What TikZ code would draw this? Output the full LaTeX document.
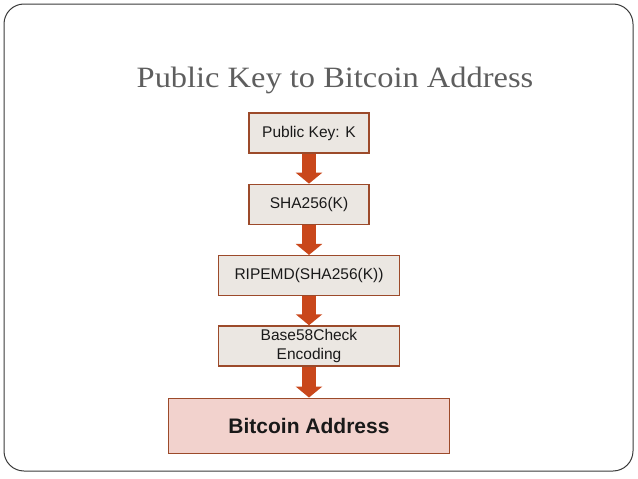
\documentclass[tikz,border=0pt]{standalone}
\usepackage{fontspec}
\setmainfont{Liberation Serif}
\newfontfamily\titlefont[FakeStretch=1.1]{Liberation Serif}
\newfontfamily\boxfont{Liberation Sans}
\usetikzlibrary{positioning,arrows.meta}

\definecolor{framegray}{HTML}{3A3A3A}
\definecolor{titlegray}{HTML}{5E5E5E}
\definecolor{boxfill}{HTML}{EBE7E2}
\definecolor{boxline}{HTML}{9C4A2A}
\definecolor{addrfill}{HTML}{F2D2CD}
\definecolor{arrowred}{HTML}{C9471B}

\tikzstyle{step box} = [draw=boxline, line width=1.3pt, fill=boxfill, inner sep=0pt, align=center, font=\boxfont\fontsize{15.5}{19}\selectfont, text=black!90]
\tikzstyle{small box} = [step box, minimum width=120pt, minimum height=40pt]
\tikzstyle{wide box} = [step box, minimum width=181pt, minimum height=40pt]
\tikzstyle{flow} = [draw=arrowred, line width=14pt, -{Triangle[width=26pt,length=11pt,fill=arrowred]}]

\begin{document}
\begin{tikzpicture}[x=1pt, y=-1pt]
\useasboundingbox (0,0) rectangle (638,479);
%frame
\draw[framegray, line width=1pt, rounded corners=20pt] (4,4) rectangle (633,471);
%title
\node[anchor=base, text=titlegray, font=\titlefont\fontsize{29.5}{34}\selectfont] (title) at (335,87) {Public Key to Bitcoin Address};
%begin boxes
\node[small box] (key) at (309,133) {Public Key: K};
\node[small box, below=30pt of key] (sha) {SHA256(K)};
\node[wide box, below=30pt of sha] (ripemd) {RIPEMD(SHA256(K))};
\node[wide box, below=29pt of ripemd] (base) {Base58Check\\Encoding};
\node[step box, fill=addrfill, minimum width=281pt, minimum height=55pt, below=31pt of base, font=\boxfont\bfseries\fontsize{21}{24}\selectfont] (address) {Bitcoin Address};
%end boxes
%begin arrows
\draw[flow] (key) -- (sha);
\draw[flow] (sha) -- (ripemd);
\draw[flow] (ripemd) -- (base);
\draw[flow] (base) -- (address);
%end arrows
\end{tikzpicture}
\end{document}
